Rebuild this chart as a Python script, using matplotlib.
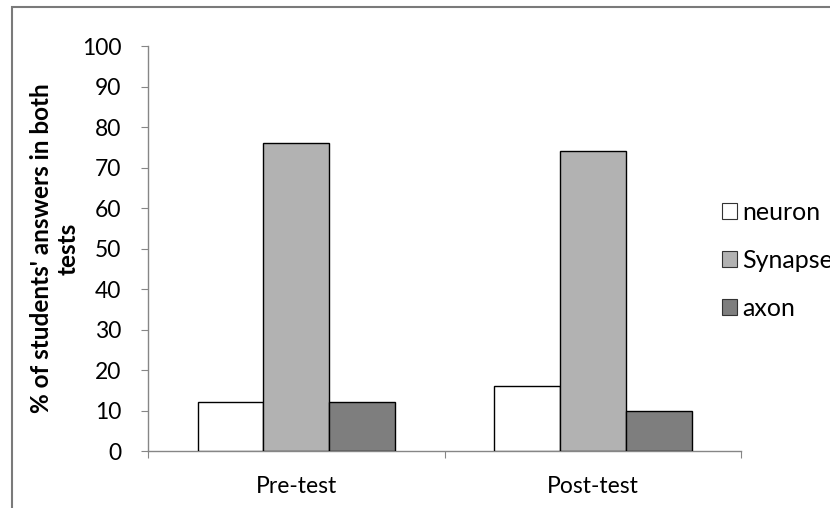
import matplotlib.pyplot as plt
import matplotlib.patches as mpatches
import numpy as np

plt.rcParams['font.family'] = ['Lato', 'DejaVu Sans']

tests = ['Pre-test', 'Post-test']
answers = ['neuron', 'Synapse', 'axon']
neuron = [12, 16]
synapse = [76, 74]
axon = [12, 10]
colours = ['#ffffff', '#b2b2b2', '#7e7e7e']

fig = plt.figure(figsize=(8.3, 5.08), dpi=100)
ax = fig.add_axes([0.1783, 0.1122, 0.7145, 0.7972])

# outer chart border (only left / top visible, cut at the right and bottom)
fig.patches.append(mpatches.Rectangle((12/830, -0.1), 1.2, 1 - 7/508 + 0.1,
                                      transform=fig.transFigure, fill=False,
                                      edgecolor='#7a7a7a', lw=1.5))

x = np.arange(len(tests))
bw = 0.222
for i, (vals, lab) in enumerate(zip([neuron, synapse, axon], answers)):
    ax.bar(x + (i - 1)*bw, vals, width=bw, color=colours[i], edgecolor='black',
           linewidth=1.0, label=lab, zorder=3)

ax.set_xlim(-0.5, 1.5)
ax.set_ylim(0, 100)
ax.set_yticks(np.arange(0, 101, 10))
ax.set_xticks([-0.5, 0.5, 1.5])
ax.set_xticklabels([])
ax.set_xticks(x, minor=True)
ax.set_xticklabels(tests, minor=True)
ax.tick_params(axis='x', which='major', length=5, color='#868686', direction='out')
ax.tick_params(axis='x', which='minor', length=0, pad=18, labelsize=16.5)
ax.tick_params(axis='y', length=5, color='#868686', direction='out', labelsize=16.5, pad=14)

for s in ['top', 'right']:
    ax.spines[s].set_visible(False)
for s in ['left', 'bottom']:
    ax.spines[s].set_color('#868686')
    ax.spines[s].set_linewidth(1.0)

ax.set_ylabel("% of students' answers in both\ntests", fontsize=17.5,
              fontweight='bold', labelpad=2, linespacing=1.2)

handles = [mpatches.Patch(facecolor=c, edgecolor='#333333', lw=0.8) for c in colours]
ax.legend(handles, answers, loc='center left', bbox_to_anchor=(0.93, 0.47),
          frameon=False, fontsize=18, handlelength=0.6, handleheight=0.6,
          handletextpad=0.2, labelspacing=1.0)

fig.savefig('out.png', dpi=100)
